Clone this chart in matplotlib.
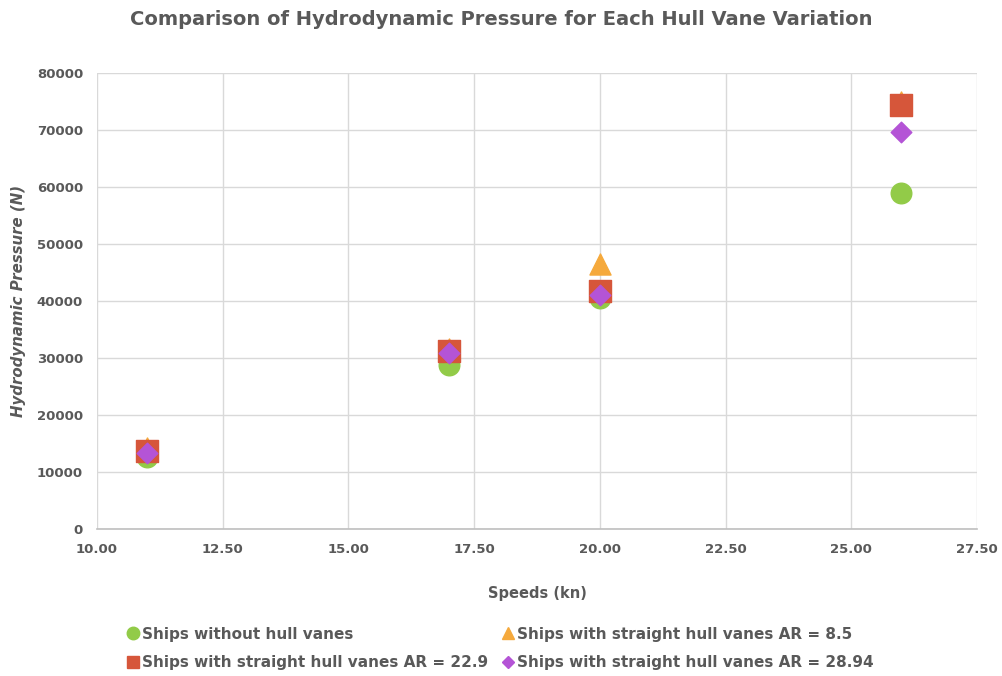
import matplotlib.pyplot as plt
from matplotlib.lines import Line2D

plt.rcParams['font.family'] = ['DejaVu Sans']

speeds = [11, 17, 20, 26]
no_vanes = [12700, 28800, 40500, 59000]
ar_8_5 = [14200, 31500, 46500, 75000]
ar_22_9 = [13700, 31200, 41800, 74400]
ar_28_94 = [13400, 30900, 41000, 69700]

gray = '#595959'

fig = plt.figure(figsize=(10.03, 6.76), dpi=100)
ax = fig.add_axes([0.0967, 0.2175, 0.8773, 0.6745])

ax.scatter(speeds, no_vanes, marker='o', s=220, color='#92CB48', zorder=3)
ax.scatter(speeds, ar_8_5, marker='^', s=230, color='#F5A93C', zorder=3)
ax.scatter(speeds, ar_22_9, marker='s', s=230, color='#D6563A', zorder=3)
ax.scatter(speeds, ar_28_94, marker='D', s=110, color='#B454D6', zorder=3)

ax.set_xlim(10, 27.5)
ax.set_ylim(0, 80000)
ax.set_xticks([10, 12.5, 15, 17.5, 20, 22.5, 25, 27.5])
ax.set_xticklabels(['%.2f' % v for v in ax.get_xticks()])
ax.set_yticks(range(0, 80001, 10000))
ax.grid(True, color='#D9D9D9', linewidth=1)
ax.set_axisbelow(True)
for s in ['top', 'right', 'left']:
    ax.spines[s].set_visible(False)
ax.spines['bottom'].set_color('#BFBFBF')
ax.spines['bottom'].set_linewidth(1.2)
ax.tick_params(length=0, labelsize=9.5, labelcolor=gray, pad=10)
for lbl in ax.get_xticklabels() + ax.get_yticklabels():
    lbl.set_fontweight('bold')

ax.set_xlabel('Speeds (kn)', fontsize=10.5, fontweight='bold', color=gray, labelpad=22)
ax.set_ylabel('Hydrodynamic Pressure (N)', fontsize=10.8, fontweight='bold',
              fontstyle='italic', color=gray, labelpad=8)
fig.suptitle('Comparison of Hydrodynamic Pressure for Each Hull Vane Variation',
             x=0.5, y=0.985, fontsize=14, fontweight='bold', color=gray)

handles = [
    Line2D([], [], marker='o', ls='', color='#92CB48', markersize=9),
    Line2D([], [], marker='s', ls='', color='#D6563A', markersize=9),
    Line2D([], [], marker='^', ls='', color='#F5A93C', markersize=9),
    Line2D([], [], marker='D', ls='', color='#B454D6', markersize=6),
]
labels = ['Ships without hull vanes',
          'Ships with straight hull vanes AR = 22.9',
          'Ships with straight hull vanes AR = 8.5',
          'Ships with straight hull vanes AR = 28.94']
leg = fig.legend(handles, labels, ncol=2, loc='lower left',
                 bbox_to_anchor=(0.112, -0.012), frameon=False,
                 handlelength=0.9, handletextpad=0.15, columnspacing=0.85,
                 labelspacing=0.9, prop={'size': 11, 'weight': 'bold'})
for t in leg.get_texts():
    t.set_color(gray)

fig.savefig('out.png', dpi=100)
